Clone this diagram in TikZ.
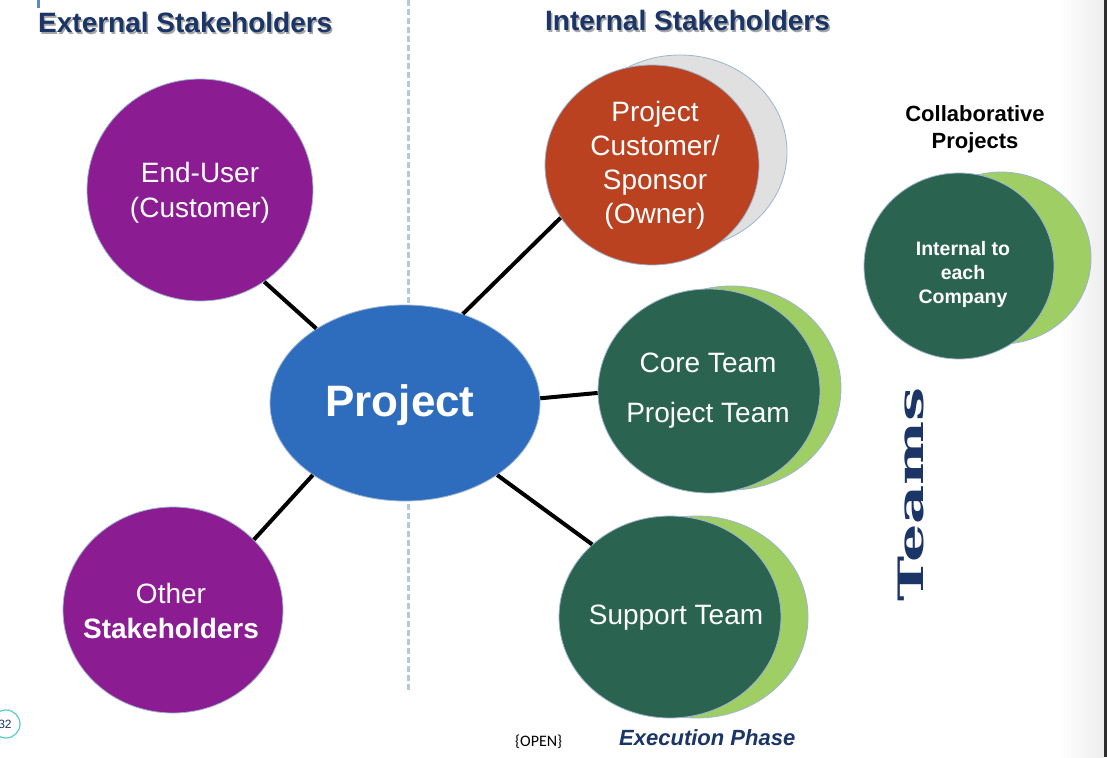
\documentclass[tikz,border=0pt]{standalone}
\usepackage{fontspec}
\setmainfont{Liberation Sans}
\newfontfamily\slabfont{DejaVu Serif}
\newfontfamily\calfont{Carlito}
\usetikzlibrary{shapes.geometric}
\definecolor{navy}{HTML}{1B3567}
\definecolor{purp}{HTML}{8B1C91}
\definecolor{projblue}{HTML}{2E6DBE}
\definecolor{rust}{HTML}{BA4220}
\definecolor{dkgreen}{HTML}{2A6350}
\definecolor{ltgreen}{HTML}{9FCF64}
\definecolor{paleedge}{HTML}{9DB3D0}
\definecolor{divider}{HTML}{B4C8E4}
\definecolor{pgring}{HTML}{5CC8D2}
\tikzset{
  blob/.style={ellipse, inner sep=0pt, draw=paleedge, line width=0.8pt},
  bubbletext/.style={text=white, align=center, font=\fontsize{28}{35}\selectfont},
  link/.style={line width=4pt, black},
  headline/.style={anchor=base west, text=navy, font=\bfseries\fontsize{28}{32}\selectfont, inner sep=0pt},
  headshadow/.style={anchor=base west, text=black!35, font=\bfseries\fontsize{28}{32}\selectfont, inner sep=0pt},
}
\begin{document}
\begin{tikzpicture}[x=1pt,y=-1pt]
\useasboundingbox (0,0) rectangle (1107,757);
\fill[white] (0,0) rectangle (1107,757);
% soft shade and frame line at the right edge
\shade[left color=white, right color=black!7] (1060,0) rectangle (1104,757);
\fill[black!82] (1104,0) rectangle (1107,757);
% small tick at the top left
\fill[projblue!80] (37,0) rectangle (40,8);

% divider between external and internal sides
\coordinate (divtop) at (408,0);
\coordinate (divbot) at (408,692);
\draw[divider, line width=3pt, dash pattern=on 6pt off 3pt] (divtop) -- (divbot);

% headings
\node[headshadow] (ext-sh) at (39.5,34.5) {External Stakeholders};
\node[headline] (ext) at (38,33) {External Stakeholders};
\node[headshadow] (int-sh) at (546.5,32.5) {Internal Stakeholders};
\node[headline] (int) at (545,31) {Internal Stakeholders};

% back discs
\node[blob, fill=black!12, minimum width=214pt, minimum height=194pt] (sponsorbk) at (680,152) {};
\node[blob, fill=ltgreen, minimum width=220pt, minimum height=204pt] (corebk) at (731,388) {};
\node[blob, fill=ltgreen, minimum width=222pt, minimum height=202pt] (supportbk) at (697,617) {};
\node[blob, fill=ltgreen, minimum width=180pt, minimum height=172pt] (collabbk) at (1001,258) {};

% front discs
\node[blob, fill=purp, minimum width=226pt, minimum height=222pt] (enduser) at (200,190) {};
\node[blob, fill=purp, minimum width=220pt, minimum height=206pt] (other) at (173,610) {};
\node[blob, fill=projblue, minimum width=270pt, minimum height=196pt] (proj) at (405,403) {};
\node[blob, fill=rust, minimum width=214pt, minimum height=200pt] (sponsor) at (652,165) {};
\node[blob, fill=dkgreen, minimum width=222pt, minimum height=204pt] (core) at (709,391) {};
\node[blob, fill=dkgreen, minimum width=222pt, minimum height=202pt] (support) at (670,617) {};
\node[blob, fill=dkgreen, minimum width=190pt, minimum height=186pt] (collab) at (959,266) {};

% connectors
\draw[link] (enduser.-55) -- (proj.140);
\draw[link] (other.41) -- (proj.218);
\draw[link] (proj.57) -- (sponsor.210);
\draw[link] (proj.2) -- (core.181);
\draw[link] (proj.-38) -- (support.137);

% labels in the discs
\node[bubbletext] (enduser-t) at (200,193) {End-User\\(Customer)};
\node[bubbletext] (other-t) at (171,611) {Other\\\textbf{Stakeholders}};
\node[text=white, font=\bfseries\fontsize{44}{50}\selectfont] (proj-t) at (400,405) {Project};
\node[bubbletext, font=\fontsize{28}{34}\selectfont] (sponsor-t) at (655,165) {Project\\Customer/\\Sponsor\\(Owner)};
\node[bubbletext, font=\fontsize{28}{50}\selectfont] (core-t) at (708,391) {Core Team\\Project Team};
\node[bubbletext] (support-t) at (676,618) {Support Team};
\node[text=white, align=center, font=\bfseries\fontsize{19.5}{24}\selectfont] (collab-t) at (963,274) {Internal to\\each\\Company};

% side captions
\node[align=center, font=\bfseries\fontsize{22}{27}\selectfont] (collab-h) at (975,129.5) {Collaborative\\Projects};
\node[rotate=90, text=navy, inner sep=0pt] (teams) at (911,494)
  {\scalebox{1.73}[1]{\slabfont\bfseries\fontsize{35}{38}\selectfont Teams}};

% footer
\node[anchor=base west, inner sep=0pt, text=navy, font=\bfseries\itshape\fontsize{22}{26}\selectfont] (phase) at (619,745) {Execution Phase};
\node[anchor=base west, inner sep=0pt, font=\calfont\fontsize{16}{18}\selectfont] (open) at (515,746) {\{OPEN\}};
\node[circle, draw=pgring, line width=1.2pt, minimum size=28pt, inner sep=0pt] (pg) at (6,724) {};
\node[text=navy, font=\fontsize{12}{14}\selectfont, inner sep=0pt] (pg-t) at (5,724) {32};
\end{tikzpicture}
\end{document}
